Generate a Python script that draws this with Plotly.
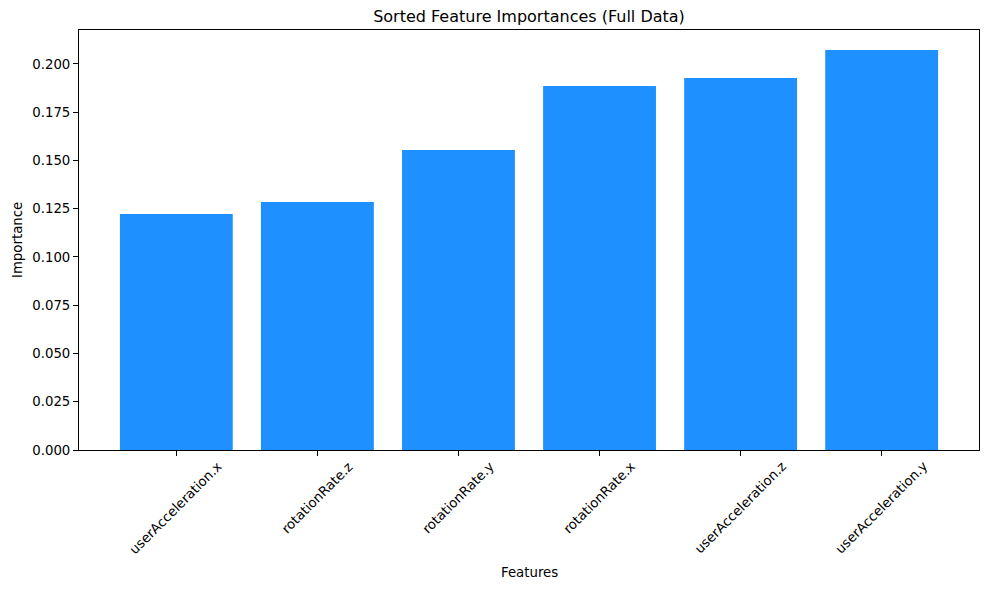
import plotly.graph_objects as go

features = ["userAcceleration.x", "rotationRate.z", "rotationRate.y",
            "rotationRate.x", "userAcceleration.z", "userAcceleration.y"]
importances = [0.1223, 0.1285, 0.1554, 0.1886, 0.1927, 0.2072]
y_ticks = [0.000, 0.025, 0.050, 0.075, 0.100, 0.125, 0.150, 0.175, 0.200]

FONT = "DejaVu Sans"
W, H = 973, 574

fig = go.Figure(go.Bar(x=features, y=importances, width=0.8,
                       marker=dict(color="#1E90FF", line=dict(width=0))))

annotations = []
for f in features:
    annotations.append(dict(x=f, y=0, xref="x", yref="paper", text=f,
                            showarrow=False, textangle=-45, xanchor="center",
                            yanchor="top", yshift=-6,
                            font=dict(family=FONT, size=13.3, color="black")))
annotations.append(dict(x=0.5, y=0, xref="paper", yref="paper", text="Features",
                        showarrow=False, xanchor="center", yanchor="middle",
                        yshift=-122, font=dict(family=FONT, size=13.3, color="black")))
annotations.append(dict(x=0, y=0.5, xref="paper", yref="paper", text="Importance",
                        showarrow=False, xanchor="center", yanchor="middle",
                        textangle=-90, xshift=-62,
                        font=dict(family=FONT, size=13.3, color="black")))

fig.update_layout(
    template="none",
    width=W, height=H,
    margin=dict(l=71, r=2, t=22, b=132, autoexpand=False),
    plot_bgcolor="white", paper_bgcolor="white",
    title=dict(text="Sorted Feature Importances (Full Data)", x=521 / W,
               xanchor="center", y=1 - 8 / H, yanchor="middle",
               font=dict(family=FONT, size=16, color="black")),
    font=dict(family=FONT, size=13.3, color="black"),
    showlegend=False,
    annotations=annotations,
)
fig.update_xaxes(range=[-0.69, 5.69], showticklabels=False, ticks="outside",
                 ticklen=5, tickwidth=1, tickcolor="black", automargin=False,
                 showline=True, linecolor="black", linewidth=1, mirror=True,
                 showgrid=False, zeroline=False)
fig.update_yaxes(range=[0, 0.2176], tickvals=y_ticks, tickformat=".3f",
                 ticks="outside", ticklen=5, tickwidth=1, tickcolor="black",
                 automargin=False,
                 showline=True, linecolor="black", linewidth=1, mirror=True,
                 showgrid=False, zeroline=False,
                 tickfont=dict(family=FONT, size=13.3, color="black"))

fig.write_html("out.html")
